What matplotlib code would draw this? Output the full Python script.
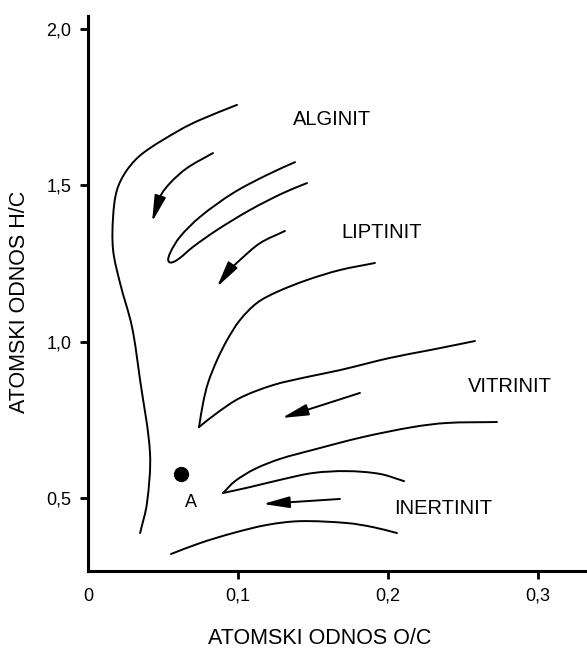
import matplotlib
matplotlib.use("Agg")
import matplotlib.pyplot as plt
import numpy as np
from matplotlib.path import Path
from matplotlib.patches import PathPatch, FancyArrowPatch

plt.rcParams['font.family'] = ['Liberation Sans', 'DejaVu Sans']

# maturation paths (O/C, H/C)
envelope_x = [0.0993, 0.0747, 0.0613, 0.0367, 0.026, 0.0193, 0.0167, 0.0167, 0.0213, 0.0293, 0.0347, 0.0413, 0.0393, 0.0347]
envelope_y = [1.757, 1.709, 1.677, 1.603, 1.549, 1.485, 1.399, 1.293, 1.188, 1.047, 0.877, 0.644, 0.484, 0.388]

alginit_x = [0.138, 0.1193, 0.0967, 0.0747, 0.0613, 0.0547, 0.054, 0.0593, 0.07, 0.086, 0.108, 0.13, 0.146]
alginit_y = [1.574, 1.533, 1.475, 1.399, 1.335, 1.283, 1.255, 1.261, 1.303, 1.357, 1.421, 1.475, 1.507]

# hairpins with a sharp tip: upper branch and lower branch meet at the tip
liptinit_up_x = [0.1913, 0.168, 0.146, 0.126, 0.1127, 0.1013, 0.0927, 0.086, 0.08, 0.0767, 0.074]
liptinit_up_y = [1.2515, 1.229, 1.197, 1.159, 1.124, 1.069, 1.005, 0.941, 0.868, 0.804, 0.727]
liptinit_lo_x = [0.074, 0.086, 0.1013, 0.1233, 0.146, 0.168, 0.2013, 0.228, 0.258]
liptinit_lo_y = [0.727, 0.772, 0.82, 0.861, 0.887, 0.909, 0.948, 0.973, 1.002]

vitrinit_up_x = [0.2727, 0.2393, 0.2167, 0.1833, 0.15, 0.128, 0.1113, 0.098, 0.09]
vitrinit_up_y = [0.743, 0.74, 0.727, 0.695, 0.654, 0.625, 0.593, 0.554, 0.516]
vitrinit_lo_x = [0.09, 0.108, 0.128, 0.15, 0.1727, 0.1947, 0.2107]
vitrinit_lo_y = [0.516, 0.535, 0.558, 0.58, 0.586, 0.577, 0.554]

inertinit_x = [0.0553, 0.0747, 0.0967, 0.1193, 0.1413, 0.1727, 0.19, 0.206]
inertinit_y = [0.321, 0.356, 0.388, 0.414, 0.426, 0.42, 0.407, 0.388]

# arrows (start -> tip)
arrow1_x = [0.0833, 0.066, 0.0547, 0.048, 0.0427]
arrow1_y = [1.603, 1.555, 1.507, 1.463, 1.383]
arrow2_x = [0.1313, 0.1147, 0.1013, 0.0927, 0.086]
arrow2_y = [1.354, 1.315, 1.261, 1.22, 1.175]
arrow3_x = [0.1813, 0.1293]
arrow3_y = [0.836, 0.756]
arrow4_x = [0.168, 0.1167]
arrow4_y = [0.497, 0.481]

point_a = (0.062, 0.577)

labels = ['ALGINIT', 'LIPTINIT', 'VITRINIT', 'INERTINIT']
label_x = [0.1627, 0.196, 0.2813, 0.2367]
label_y = [1.71, 1.348, 0.858, 0.468]

xticks = [0, 0.1, 0.2, 0.3]
xticklabels = ['0', '0,1', '0,2', '0,3']
yticks = [0.5, 1.0, 1.5, 2.0]
yticklabels = ['0,5', '1,0', '1,5', '2,0']

XS, YS = 1500.0, 312.7  # rough px per data unit, so tangents are taken on screen scale


def smooth_path(xs, ys):
    # smooth curve through the points, handed to matplotlib as cubic beziers
    p = np.column_stack([np.asarray(xs) * XS, np.asarray(ys) * YS])
    n = len(p)
    if n == 2:
        return Path(p / [XS, YS])
    tang = []
    for i in range(n):
        d = p[min(i + 1, n - 1)] - p[max(i - 1, 0)]
        tang.append(d / np.hypot(*d))
    verts = [p[0]]
    codes = [Path.MOVETO]
    for i in range(n - 1):
        seg = np.hypot(*(p[i + 1] - p[i])) / 3
        verts += [p[i] + tang[i] * seg, p[i + 1] - tang[i + 1] * seg, p[i + 1]]
        codes += [Path.CURVE4] * 3
    return Path(np.array(verts) / [XS, YS], codes)


fig = plt.figure(figsize=(5.87, 6.5), dpi=100)
ax = fig.add_axes([0.15, 0.1215, 0.85, 0.8538])

curves = [(envelope_x, envelope_y), (alginit_x, alginit_y),
          (liptinit_up_x, liptinit_up_y), (liptinit_lo_x, liptinit_lo_y),
          (vitrinit_up_x, vitrinit_up_y), (vitrinit_lo_x, vitrinit_lo_y),
          (inertinit_x, inertinit_y)]
for xs, ys in curves:
    ax.add_patch(PathPatch(smooth_path(xs, ys), fill=False, lw=1.4, color='black', capstyle='round'))

for xs, ys in [(arrow1_x, arrow1_y), (arrow2_x, arrow2_y), (arrow3_x, arrow3_y), (arrow4_x, arrow4_y)]:
    ax.add_patch(FancyArrowPatch(path=smooth_path(xs, ys), arrowstyle='-|>,head_length=1.6,head_width=0.35',
                                 mutation_scale=10, lw=1.4, color='black', shrinkA=0, shrinkB=0))

ax.plot(point_a[0], point_a[1], 'o', color='black', markersize=10)
ax.text(point_a[0] + 0.0067, point_a[1] - 0.09, 'A', fontsize=13, ha='center', va='center')

for t, x, y in zip(labels, label_x, label_y):
    ax.text(x, y, t, fontsize=14.5, ha='center', va='center')

ax.set_xlim(0, 0.3327)
ax.set_ylim(0.2666, 2.041)
ax.spines['top'].set_visible(False)
ax.spines['right'].set_visible(False)
ax.spines['left'].set_linewidth(2.2)
ax.spines['bottom'].set_linewidth(2.2)

ax.set_xticks(xticks)
ax.set_xticklabels(xticklabels, fontsize=13)
ax.set_yticks(yticks)
ax.set_yticklabels(yticklabels, fontsize=13)
ax.tick_params(length=6, width=2, pad=6)
ax.xaxis.get_major_ticks()[0].tick1line.set_visible(False)

fig.text(0.545, 0.018, 'ATOMSKI ODNOS O/C', fontsize=15.5, ha='center', va='center')
fig.text(0.034, 0.535, 'ATOMSKI ODNOS H/C', fontsize=15.5, ha='center', va='center', rotation=90)

fig.savefig('out.png', dpi=100)
